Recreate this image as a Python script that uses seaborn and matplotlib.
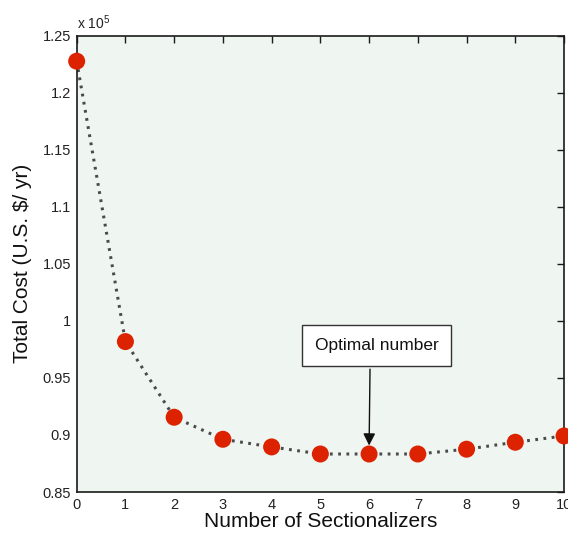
import matplotlib
matplotlib.use("Agg")
import matplotlib.pyplot as plt
import seaborn as sns
import pandas as pd
from matplotlib.ticker import FuncFormatter, MultipleLocator

# Data
sectionalizers = [0, 1, 2, 3, 4, 5, 6, 7, 8, 9, 10]
total_cost = [122750, 98180, 91550, 89620, 88950, 88330, 88330, 88330, 88750, 89360, 89910]
x_label = "Number of Sectionalizers"
y_label = "Total Cost (U.S. $/ yr)"
annotation_text = "Optimal number"
optimal_n = 6

df = pd.DataFrame({"n": sectionalizers, "cost": total_cost})

sns.set_theme(style="white")
plt.rcParams['font.family'] = ['Liberation Sans', 'DejaVu Sans']
plt.rcParams['mathtext.fontset'] = 'custom'
plt.rcParams['mathtext.rm'] = 'Liberation Sans'

fig = plt.figure(figsize=(5.68, 5.38), dpi=100)
ax = fig.add_axes([0.135, 0.0855, 0.858, 0.8485])
ax.set_facecolor('#EFF5F1')

sns.lineplot(data=df, x="n", y="cost", ax=ax, color='#4a4a4a', linewidth=2.2,
             linestyle=(0, (0.9, 1.8)), zorder=2)
sns.scatterplot(data=df, x="n", y="cost", ax=ax, color='#DD2200', s=150,
                edgecolor='none', zorder=3, clip_on=False)

ax.set_xlim(0, 10)
ax.set_ylim(85000, 125000)
ax.xaxis.set_major_locator(MultipleLocator(1))
ax.yaxis.set_major_locator(MultipleLocator(5000))
ax.yaxis.set_major_formatter(FuncFormatter(lambda v, p: f"{v/1e5:g}"))

for s in ax.spines.values():
    s.set_color('#1a1a1a')
    s.set_linewidth(1.2)
ax.tick_params(direction='in', length=5, width=1, colors='#1a1a1a',
               top=True, right=True, labelsize=10.5, pad=4)
for lbl in ax.get_xticklabels() + ax.get_yticklabels():
    lbl.set_color('#222222')

ax.set_xlabel(x_label, fontsize=15, color='#111111', labelpad=0)
ax.set_ylabel(y_label, fontsize=15, color='#111111', labelpad=8)

ax.text(0.0, 1.008, r"x $10^{5}$", transform=ax.transAxes, fontsize=10,
        ha='left', va='bottom', color='#222222')

idx = sectionalizers.index(optimal_n)
ax.annotate(annotation_text, xy=(optimal_n, total_cost[idx] + 500),
            xytext=(optimal_n + 0.15, 97850), fontsize=12.5, ha='center', va='center',
            color='#111111',
            bbox=dict(boxstyle='square,pad=0.75', fc='white', ec='#333333', lw=1),
            arrowprops=dict(arrowstyle='-|>', color='#111111', lw=1,
                            mutation_scale=18, relpos=(0.45, 0.0)))

fig.savefig("out.png", dpi=100)
